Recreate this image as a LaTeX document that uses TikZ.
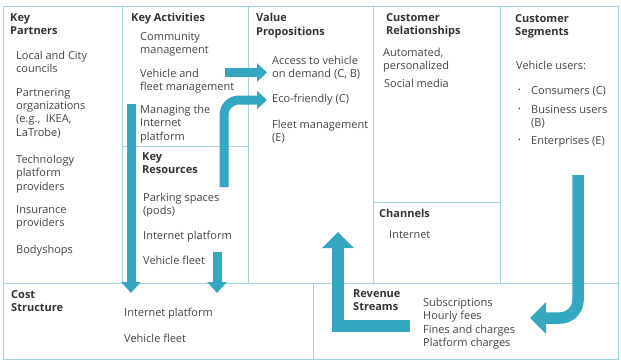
\documentclass[tikz,border=0pt]{standalone}
\usepackage{fontspec}
\setmainfont{Open Sans}
\usepackage{tikz}
\usetikzlibrary{arrows.meta}
\definecolor{grid}{HTML}{A3D3DF}
\definecolor{flow}{HTML}{33A8C0}
\definecolor{ink}{HTML}{444444}
\definecolor{headc}{HTML}{333333}
\tikzset{
  cell/.style={draw=grid, line width=0.8pt},
  flowarr/.style={draw=flow, line width=9pt, line join=miter, -{Triangle[length=10pt,width=18pt]}},
  bigarr/.style={draw=flow, line width=11.5pt, line join=miter, -{Triangle[length=16pt,width=31pt]}},
  hd/.style={anchor=north west, inner sep=0pt, yshift=4pt, align=left, text=headc, font=\fontsize{11}{13.5}\selectfont\bfseries},
  itm/.style={anchor=north west, inner sep=0pt, yshift=4pt, align=left, text=ink, font=\fontsize{11}{13.3}\selectfont},
  dotm/.style={inner sep=0pt, text=ink, font=\fontsize{7}{7}\selectfont},
}
\begin{document}
\begin{tikzpicture}[x=1pt,y=-1pt]
  \useasboundingbox (0,0) rectangle (621,361);
  % canvas grid
  \draw[cell] (3,6) rectangle (618,359);
  \draw[cell] (3,283) -- (618,283);
  \foreach \x in {122,248,373,500} \draw[cell] (\x,6) -- (\x,283);
  \draw[cell] (122,146) -- (248,146);
  \draw[cell] (373,202) -- (500,202);
  \draw[cell] (313,283) -- (313,359);
  % flow arrows
  \coordinate (actout) at (225,72.5);  \coordinate (vpin1) at (267,72.5);
  \coordinate (resout) at (224,187);   \coordinate (vpin2) at (267,100);
  \coordinate (actdown) at (131,104);  \coordinate (costin1) at (131,293);
  \coordinate (fleetout) at (217,252); \coordinate (costin2) at (217,293);
  \coordinate (revout) at (410,326);   \coordinate (corner) at (338,326);
  \coordinate (chin) at (338,232);
  \coordinate (segout) at (578,175);   \coordinate (revin) at (530,318);
  \draw[flowarr] (actout) -- (vpin1);
  \draw[flowarr, rounded corners=15pt] (resout) |- (vpin2);
  \draw[flowarr, -{Triangle[length=11pt,width=19pt]}] (actdown) -- (costin1);
  \draw[flowarr, -{Triangle[length=11pt,width=19pt]}] (fleetout) -- (costin2);
  \draw[bigarr] (revout) -- (corner) -- (chin);
  \draw[bigarr, rounded corners=18pt] (segout) |- (revin);
  % key partners
  \node[hd] (kp) at (10,17) {Key\\Partners};
  \node[itm] (kp1) at (16,55) {Local and City\\councils};
  \node[itm] (kp2) at (16,92) {Partnering\\organizations\\(e.g.,\ \ IKEA,\\LaTrobe)};
  \node[itm] (kp3) at (16,159) {Technology\\platform\\providers};
  \node[itm] (kp4) at (16,209) {Insurance\\providers};
  \node[itm] (kp5) at (16,249) {Bodyshops};
  % key activities
  \node[hd] (ka) at (131,17) {Key Activities};
  \node[itm] (ka1) at (140,36) {Community\\management};
  \node[itm] (ka2) at (140,73) {Vehicle and\\fleet management};
  \node[itm] (ka3) at (140,109) {Managing the\\Internet\\platform};
  % key resources
  \node[hd] (kr) at (142,156) {Key\\Resources};
  \node[itm] (kr1) at (143,197) {Parking spaces\\(pods)};
  \node[itm] (kr2) at (143,235) {Internet platform};
  \node[itm] (kr3) at (143,260) {Vehicle fleet};
  % value propositions
  \node[hd] (vp) at (256,17) {Value\\Propositions};
  \node[itm] (vp1) at (272,60) {Access to vehicle\\on demand (C, B)};
  \node[itm] (vp2) at (272,98) {Eco-friendly (C)};
  \node[itm] (vp3) at (272,124) {Fleet management\\(E)};
  % customer relationships
  \node[hd] (cr) at (386,17) {Customer\\Relationships};
  \node[itm] (cr1) at (383,52) {Automated,\\personalized};
  \node[itm] (cr2) at (384,83) {Social media};
  % channels
  \node[hd] (ch) at (379,213) {Channels};
  \node[itm] (ch1) at (389,234) {Internet};
  % customer segments
  \node[hd] (cs) at (515,18) {Customer\\Segments};
  \node[itm] (cs0) at (516,65) {Vehicle users:};
  \node[dotm] (b1) at (519.5,91) {\textbullet};
  \node[dotm] (b2) at (519.5,110) {\textbullet};
  \node[dotm] (b3) at (519.5,141) {\textbullet};
  \node[itm] (cs1) at (531,90) {Consumers (C)};
  \node[itm] (cs2) at (531,109) {Business users\\(B)};
  \node[itm] (cs3) at (531,140) {Enterprises (E)};
  % cost structure
  \node[hd] (cost) at (11,294) {Cost\\Structure};
  \node[itm] (cost1) at (124,312) {Internet platform};
  \node[itm] (cost2) at (124,338) {Vehicle fleet};
  % revenue streams
  \node[hd] (rev) at (353,293) {Revenue\\Streams};
  \node[itm] (rev1) at (423,302) {Subscriptions\\Hourly fees\\Fines and charges\\Platform charges};
\end{tikzpicture}
\end{document}
